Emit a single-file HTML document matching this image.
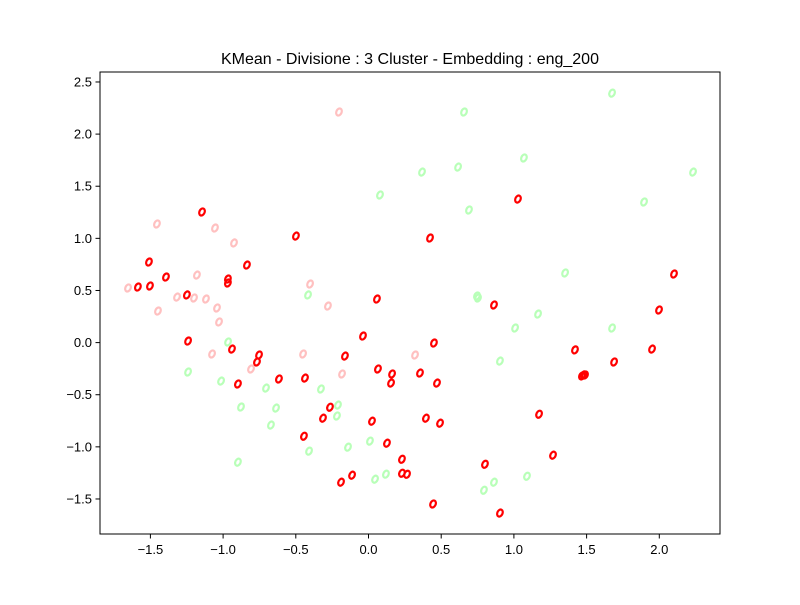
<!DOCTYPE html>
<html><head><meta charset="utf-8"><style>
body{margin:0;background:#fff}
svg text{font-family:"Liberation Sans",sans-serif;fill:#000}
</style></head><body>
<svg id="chart" width="800" height="600" viewBox="0 0 800 600" xmlns="http://www.w3.org/2000/svg">
<rect width="800" height="600" fill="#fff"/>
<text x="410" y="64" font-size="16" text-anchor="middle">KMean - Divisione : 3 Cluster - Embedding : eng_200</text>
<g id="marks"></g>
<rect x="100" y="72" width="620" height="462" fill="none" stroke="#000" stroke-width="1"/>
<g id="axes"></g>
</svg>
<script>
const xTicks=[-1.5,-1.0,-0.5,0.0,0.5,1.0,1.5,2.0];
const yTicks=[-1.5,-1.0,-0.5,0.0,0.5,1.0,1.5,2.0,2.5];
const redX=[-1.145,-1.51,-1.393,-0.836,-0.967,-0.967,-1.503,-1.586,-1.249,-0.499,0.058,0.423,1.028,2.101,1.998,0.863,-1.241,-0.939,-0.753,-0.767,-0.898,-0.616,-0.437,-0.162,-0.038,0.45,0.065,0.155,0.162,0.354,0.471,1.42,1.489,1.468,1.48,1.689,1.95,-0.265,-0.313,0.024,0.395,0.492,1.173,-0.444,0.127,0.23,-0.113,-0.189,0.23,0.265,0.801,1.269,0.444,0.904];
const redY=[1.253,0.773,0.629,0.744,0.61,0.572,0.543,0.533,0.457,1.022,0.418,1.003,1.377,0.658,0.313,0.361,0.015,-0.062,-0.119,-0.186,-0.397,-0.349,-0.34,-0.129,0.063,-0.004,-0.253,-0.388,-0.301,-0.292,-0.388,-0.07,-0.311,-0.32,-0.31,-0.186,-0.062,-0.62,-0.725,-0.754,-0.725,-0.773,-0.687,-0.898,-0.965,-1.119,-1.272,-1.339,-1.253,-1.263,-1.167,-1.08,-1.548,-1.635];
const pinkX=[-1.654,-1.455,-1.448,-1.317,-1.2,-1.118,-1.18,-1.056,-0.925,-1.042,-1.028,-1.076,-0.808,-0.402,-0.279,-0.45,-0.203,-0.182,0.32];
const pinkY=[0.524,1.138,0.303,0.437,0.428,0.418,0.648,1.099,0.956,0.332,0.198,-0.109,-0.253,0.562,0.351,-0.109,2.212,-0.301,-0.119];
const greenX=[1.675,0.657,1.069,0.616,0.368,0.079,0.691,1.895,2.232,1.352,0.746,0.753,-0.416,1.675,1.008,1.166,0.904,-0.966,-1.241,-1.014,-0.705,-0.877,-0.636,-0.671,-0.327,-0.21,-0.217,-0.409,-0.141,0.01,0.045,0.12,0.794,0.863,1.09,-0.898];
const greenY=[2.393,2.212,1.771,1.684,1.636,1.416,1.272,1.349,1.636,0.668,0.447,0.428,0.457,0.14,0.14,0.274,-0.177,0.006,-0.282,-0.369,-0.436,-0.618,-0.628,-0.791,-0.445,-0.599,-0.704,-1.041,-1.003,-0.945,-1.31,-1.262,-1.416,-1.339,-1.282,-1.147];
const NS="http://www.w3.org/2000/svg";
function sx(v){return 368.5+v*145.4;}
function sy(v){return 342.6-v*104.25;}
const marks=document.getElementById('marks');
function series(xs,ys,color,name){
  for(let i=0;i<xs.length;i++){
    const e=document.createElementNS(NS,'ellipse');
    const cx=sx(xs[i]),cy=sy(ys[i]);
    e.setAttribute('cx',cx);e.setAttribute('cy',cy);
    e.setAttribute('rx',2.6);e.setAttribute('ry',3.7);
    e.setAttribute('transform','rotate(25 '+cx+' '+cy+')');
    e.setAttribute('fill','none');e.setAttribute('stroke',color);e.setAttribute('stroke-width',2.2);
    
    
    marks.appendChild(e);
  }
}
series(greenX,greenY,'#b8ffb8','point-cluster-green');
series(pinkX,pinkY,'#ffc0c0','point-cluster-pink');
series(redX,redY,'#ff0000','point-cluster-red');
const axes=document.getElementById('axes');
xTicks.forEach(t=>{
  const x=sx(t);
  const l=document.createElementNS(NS,'line');
  l.setAttribute('x1',x);l.setAttribute('x2',x);l.setAttribute('y1',534);l.setAttribute('y2',538.5);l.setAttribute('stroke','#000');
  
  
  axes.appendChild(l);
  const tx=document.createElementNS(NS,'text');
  tx.setAttribute('x',x);tx.setAttribute('y',554);tx.setAttribute('font-size','13');tx.setAttribute('text-anchor','middle');
  tx.textContent=t.toFixed(1).replace('-','\u2212');
  
  
  axes.appendChild(tx);
});
yTicks.forEach(t=>{
  const y=sy(t);
  const l=document.createElementNS(NS,'line');
  l.setAttribute('x1',95.5);l.setAttribute('x2',100);l.setAttribute('y1',y);l.setAttribute('y2',y);l.setAttribute('stroke','#000');
  
  
  axes.appendChild(l);
  const tx=document.createElementNS(NS,'text');
  tx.setAttribute('x',92);tx.setAttribute('y',y+4.5);tx.setAttribute('font-size','13');tx.setAttribute('text-anchor','end');
  tx.textContent=t.toFixed(1).replace('-','\u2212');
  
  
  axes.appendChild(tx);
});
</script>
</body></html>
